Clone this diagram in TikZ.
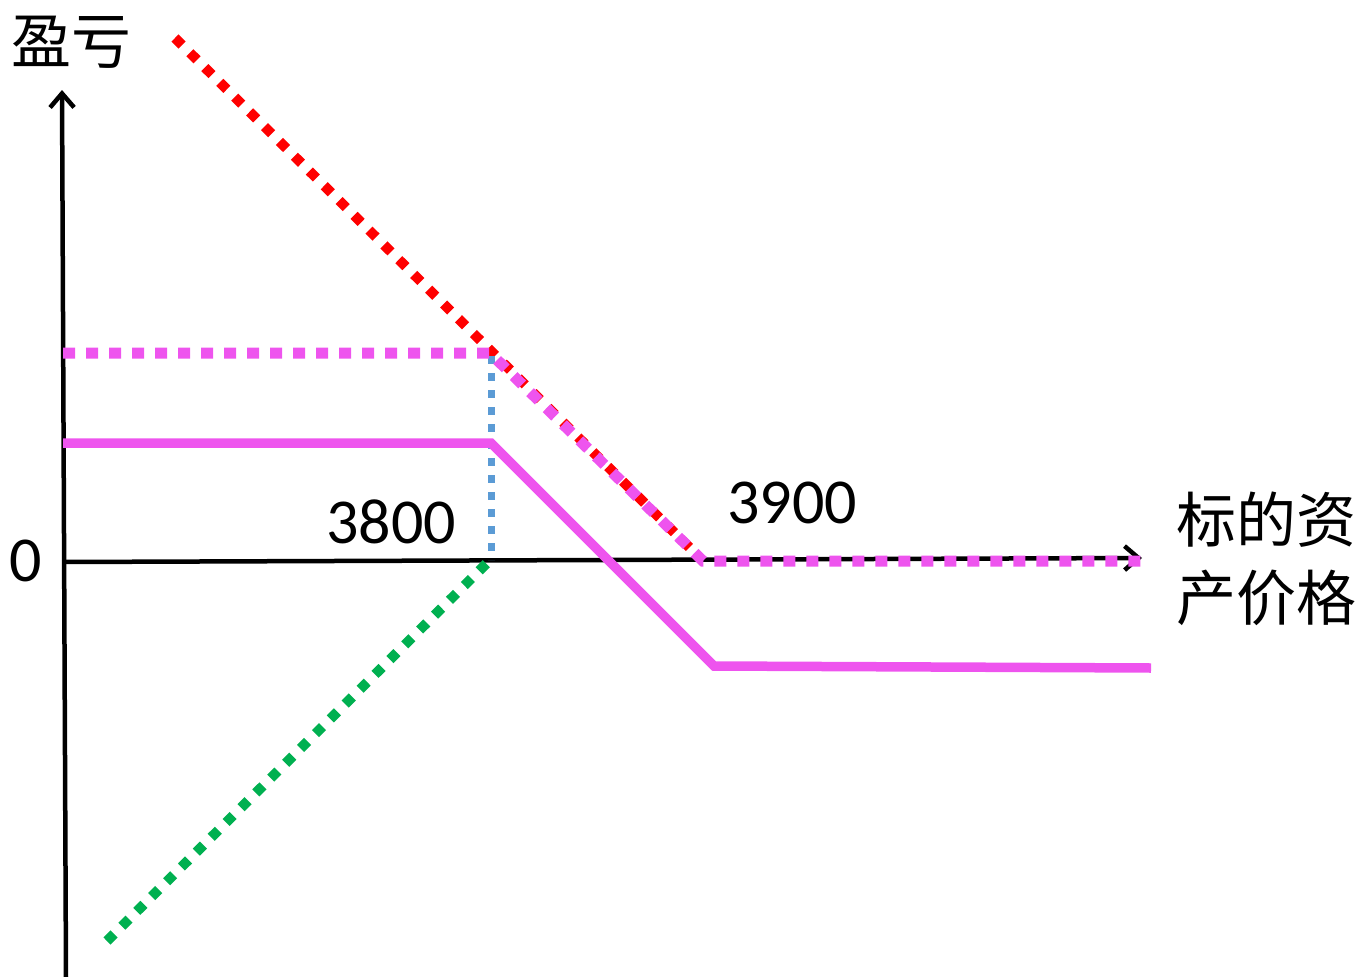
\documentclass[tikz,border=0pt]{standalone}
\usepackage{fontspec}
\setmainfont{Carlito}
\newfontfamily\cjk{Noto Sans CJK SC}
\usetikzlibrary{arrows.meta}
\begin{document}
\begin{tikzpicture}[x=1pt,y=-1pt,
  axis/.style={line width=4.5pt,-{Straight Barb[length=14pt,width=24pt]}},
  reddot/.style={draw={rgb,255:red,255;green,0;blue,0},line width=10pt,dash pattern=on 10pt off 11pt},
  magdot/.style={draw={rgb,255:red,238;green,84;blue,238},line width=11pt,dash pattern=on 12pt off 11pt},
  bluedot/.style={draw={rgb,255:red,91;green,155;blue,213},line width=7pt,dash pattern=on 8pt off 9pt},
  greendot/.style={draw={rgb,255:red,0;green,176;blue,80},line width=10pt,dash pattern=on 10pt off 11pt},
  magline/.style={draw={rgb,255:red,238;green,84;blue,238},line width=9.5pt},
  num/.style={font=\fontsize{64}{70}\selectfont,inner sep=0pt},
  cjklab/.style={font=\cjk\fontsize{60}{78}\selectfont,inner sep=0pt,align=left}]
\useasboundingbox (0,0) rectangle (1363,977);
% coordinates
\coordinate (ybot) at (66,977);
\coordinate (ytop) at (62,90);
\coordinate (xl) at (63,562);
\coordinate (xr) at (1142,558);
\coordinate (rs) at (175,38);
\coordinate (re) at (693,551);
\coordinate (m1) at (63,353);
\coordinate (m2) at (490,353);
\coordinate (m3) at (703,561);
\coordinate (m4) at (1143,561);
\coordinate (b1) at (491,356);
\coordinate (b2) at (491,560);
\coordinate (g1) at (107,941);
\coordinate (g2) at (488,562);
\coordinate (s1) at (63,443);
\coordinate (s2) at (491,443);
\coordinate (s3) at (714,666);
\coordinate (s4) at (1151,668);
% axes
\draw[axis] (ybot) -- (ytop);
\draw[axis] (xl) -- (xr);
% lines
\draw[reddot] (rs) -- (re);
\draw[greendot] (g1) -- (g2);
\draw[bluedot] (b1) -- (b2);
\draw[magline] (s1) -- (s2) -- (s3) -- (s4);
\draw[magdot] (m1) -- (m2) -- (m3) -- (m4);
% labels
\node[cjklab] (ylab) at (72,42) {盈亏};
\node[num] (zero) at (26,561) {0};
\node[num] (k1) at (391,522) {3800};
\node[num] (k2) at (792,503) {3900};
\node[cjklab] (xlab) at (1266,559) {标的资\\产价格};
\end{tikzpicture}
\end{document}
